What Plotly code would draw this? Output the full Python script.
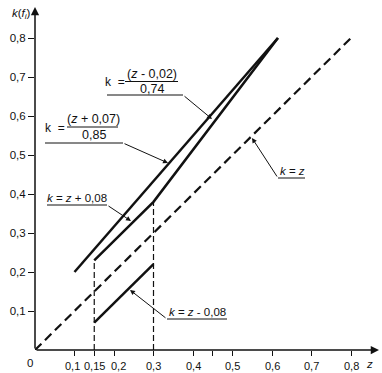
import plotly.graph_objects as go

# ---- data ----
diag_z = [0.0, 0.8]
diag_k = [0.0, 0.8]
upper_z = [0.10, 0.615]
upper_k = [0.20, 0.80]
middle_z = [0.15, 0.30, 0.615]
middle_k = [0.23, 0.38, 0.80]
lower_z = [0.15, 0.30]
lower_k = [0.07, 0.22]
vert1_z = [0.15, 0.15]
vert1_k = [0.0, 0.23]
vert2_z = [0.30, 0.30]
vert2_k = [0.0, 0.38]

x_tickvals = [0.1, 0.15, 0.2, 0.3, 0.4, 0.45, 0.5, 0.6, 0.7, 0.8]
x_ticktext = ["0,1", "0,15", "0,2", "0,3", "0,4", "", "0,5", "0,6", "0,7", "0,8"]
y_tickvals = [0.1, 0.2, 0.3, 0.4, 0.5, 0.6, 0.7, 0.8]
y_ticktext = ["0,1", "0,2", "0,3", "0,4", "0,5", "0,6", "0,7", "0,8"]

# ---- layout geometry ----
W, H = 382, 373
ML, MR, MT, MB = 35, 2, 2, 23
PXU_X, PXU_Y = 395.0, 390.0
XMAX = (W - ML - MR) / PXU_X
YMAX = (H - MT - MB) / PXU_Y
# small horizontal nudges of crowded x labels (pixels)
X_LABEL_NUDGE = {0.1: -2.5, 0.15: 0.5, 0.2: 4.0}


def dx(px):
    return (px - ML) / PXU_X


def dy(py):
    return (H - MB - py) / PXU_Y


def pxp(px):
    return (px - ML) / (W - ML - MR)


def pyp(py):
    return (H - MB - py) / (H - MT - MB)


FONT = "Liberation Sans, Arial, sans-serif"
BLACK = "#111111"

fig = go.Figure()


def add_line(z, k, width, dash="solid"):
    fig.add_trace(go.Scatter(x=z, y=k, mode="lines",
                             line=dict(color=BLACK, width=width, dash=dash),
                             hoverinfo="skip", showlegend=False))


add_line(vert1_z, vert1_k, 1.2, "6px,3px")
add_line(vert2_z, vert2_k, 1.2, "6px,3px")
add_line(diag_z, diag_k, 2.2, "9px,5px")
add_line(upper_z, upper_k, 2.5)
add_line(middle_z, middle_k, 2.5)
add_line(lower_z, lower_k, 2.5)

annotations = []
shapes = []


def text(px, py, s, size=11.5, xanchor="center"):
    annotations.append(dict(x=pxp(px), y=pyp(py), xref="paper", yref="paper", text=s,
                            showarrow=False, xanchor=xanchor, yanchor="middle",
                            font=dict(family=FONT, size=size, color=BLACK)))


def hline(px0, px1, py, width=1):
    shapes.append(dict(type="line", xref="x", yref="y", x0=dx(px0), x1=dx(px1),
                       y0=dy(py), y1=dy(py), line=dict(color=BLACK, width=width)))


def arrow(px0, py0, px1, py1, width=1, head=2, size=1.0):
    annotations.append(dict(x=dx(px1), y=dy(py1), ax=dx(px0), ay=dy(py0),
                            xref="x", yref="y", axref="x", ayref="y", text="",
                            showarrow=True, arrowhead=head, arrowsize=size,
                            arrowwidth=width, arrowcolor=BLACK, standoff=0,
                            startstandoff=0))


# axes with arrows
arrow(ML, H - MB, 379, H - MB, width=1.5, head=2, size=1.1)
arrow(ML, H - MB, ML, 7, width=1.5, head=2, size=1.1)
text(21, 14, "<i>k</i>(<i>f</i><sub><i>i</i></sub>)", size=11.5)
text(369, 364, "<i>z</i>", size=11.5)
text(30, 363, "0", size=11.5)

# x tick labels (placed as text below the ticks)
for v, t in zip(x_tickvals, x_ticktext):
    if t:
        text(ML + v * PXU_X + X_LABEL_NUDGE.get(v, 0.0), 366, t, size=11)

# annotation: k = (z - 0,02)/0,74
text(115, 82, "k  =", size=12)
text(152, 74, "(<i>z</i> - 0,02)", size=12.5)
hline(125, 178, 81.5)
text(152, 89, "0,74", size=12.5)
hline(107, 183, 95)
arrow(183, 95, 212, 119)

# annotation: k = (z + 0,07)/0,85
text(55, 127.5, "k  =", size=12)
text(93, 119, "(<i>z</i> + 0,07)", size=12.5)
hline(67, 118, 127)
text(94, 135, "0,85", size=12.5)
hline(45, 123, 143)
arrow(123, 143, 168, 163)

# annotation: k = z + 0,08
text(77, 198, "<i>k</i> = <i>z</i> + 0,08", size=11.5)
hline(47, 107, 205)
arrow(107, 205, 131, 221)

# annotation: k = z - 0,08
text(197, 312, "<i>k</i> = <i>z</i> - 0,08", size=11.5)
hline(167, 227, 319)
arrow(167, 319, 130, 290)

# annotation: k = z
text(292, 171, "<i>k</i> = <i>z</i>", size=11.5)
hline(278, 305, 178)
arrow(278, 178, 252, 138)

axis_common = dict(showgrid=False, zeroline=False, showline=False,
                   ticks="outside", tickcolor=BLACK, tickwidth=1.2,
                   automargin=False,
                   tickfont=dict(family=FONT, size=11.5, color=BLACK),
                   fixedrange=True)

fig.update_layout(
    width=W, height=H, autosize=False,
    margin=dict(l=ML, r=MR, t=MT, b=MB, pad=0),
    paper_bgcolor="white", plot_bgcolor="white",
    xaxis=dict(range=[0, XMAX], tickvals=x_tickvals, showticklabels=False,
               ticklen=5, **axis_common),
    yaxis=dict(range=[0, YMAX], tickvals=y_tickvals, ticktext=y_ticktext,
               ticklen=6, **axis_common),
    annotations=annotations, shapes=shapes, showlegend=False,
)

fig.write_html("out.html", config={"displayModeBar": False},
               post_script="document.body.style.margin='0';"
                           "document.body.style.overflow='hidden';")
